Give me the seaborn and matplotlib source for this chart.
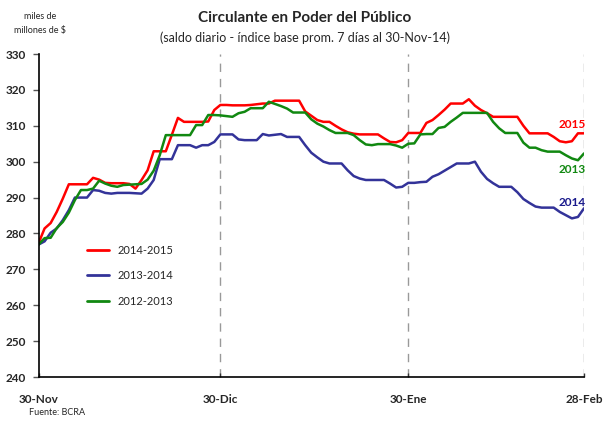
import numpy as np
import pandas as pd
import matplotlib
matplotlib.use("Agg")
import matplotlib.pyplot as plt
import seaborn as sns

# ---- data (daily, day 0 = 30-Nov ... day 90 = 28-Feb) ----
days = list(range(91))

s_2014_2015 = [277.3, 281.4, 282.9, 286.0, 289.7, 293.7, 293.7, 293.7, 293.7, 295.5,
               295.0, 294.1, 294.0, 294.0, 294.0, 293.8, 292.5, 294.9, 297.6, 302.9,
               302.9, 302.9, 307.5, 312.2, 311.1, 311.1, 311.1, 311.1, 311.2, 314.4,
               315.8, 315.8, 315.7, 315.7, 315.7, 315.8, 316.0, 316.2, 316.2, 317.0,
               317.0, 317.0, 317.0, 317.0, 314.0, 312.8, 311.6, 311.1, 311.1, 310.0,
               309.0, 308.2, 307.8, 307.6, 307.6, 307.6, 307.6, 306.5, 305.5, 305.4,
               306.0, 308.0, 308.0, 308.0, 310.8, 311.6, 313.0, 314.5, 316.2, 316.2,
               316.2, 317.4, 315.6, 314.4, 313.5, 312.5, 312.5, 312.5, 312.5, 312.5,
               310.0, 307.9, 307.9, 307.9, 307.9, 306.9, 305.7, 305.4, 305.7, 307.9,
               307.9]

s_2013_2014 = [276.9, 277.8, 280.2, 281.4, 283.7, 286.5, 290.0, 290.0, 290.0, 292.1,
               291.9, 291.3, 291.1, 291.3, 291.3, 291.3, 291.2, 291.1, 292.5, 294.9,
               300.7, 300.7, 300.7, 304.6, 304.6, 304.6, 303.9, 304.6, 304.6, 305.5,
               307.6, 307.6, 307.6, 306.2, 306.0, 306.0, 306.0, 307.7, 307.3, 307.5,
               307.7, 306.9, 306.9, 306.9, 304.6, 302.5, 301.2, 300.0, 299.5, 299.5,
               299.5, 297.6, 296.0, 295.3, 294.9, 294.9, 294.9, 294.9, 293.9, 292.8,
               293.0, 294.1, 294.1, 294.3, 294.4, 295.8, 296.5, 297.5, 298.5, 299.5,
               299.5, 299.5, 300.0, 297.2, 295.2, 294.0, 293.0, 293.0, 293.0, 291.5,
               289.6, 288.5, 287.5, 287.2, 287.2, 287.2, 286.0, 285.1, 284.2, 284.6,
               287.0]

s_2012_2013 = [276.9, 278.7, 278.8, 281.5, 283.2, 285.8, 289.3, 292.1, 292.1, 292.5,
               294.7, 293.9, 293.3, 293.0, 293.5, 293.6, 293.7, 293.8, 295.0, 297.5,
               301.8, 307.4, 307.4, 307.4, 307.4, 307.4, 310.2, 310.2, 313.0, 313.0,
               312.9, 312.7, 312.5, 313.5, 313.9, 314.9, 314.9, 314.9, 316.7, 316.1,
               315.5, 314.8, 313.7, 313.7, 313.7, 311.8, 310.6, 309.8, 308.8, 308.0,
               308.0, 308.0, 307.4, 306.0, 304.8, 304.6, 304.9, 304.9, 304.9, 304.5,
               303.9, 305.0, 305.1, 307.6, 307.7, 307.7, 309.4, 309.7, 311.1, 312.3,
               313.6, 313.6, 313.6, 313.6, 313.6, 311.1, 309.3, 308.0, 308.0, 308.0,
               305.3, 303.9, 303.9, 303.2, 302.8, 302.8, 302.8, 301.8, 300.9, 300.4,
               302.3]

series_names = ["2014-2015", "2013-2014", "2012-2013"]
end_labels = ["2015", "2014", "2013"]
xtick_pos = [0, 30, 61, 90]
xtick_labels = ["30-Nov", "30-Dic", "30-Ene", "28-Feb"]
yticks = list(range(240, 331, 10))

df = pd.DataFrame({
    "dia": days * 3,
    "valor": s_2014_2015 + s_2013_2014 + s_2012_2013,
    "serie": [series_names[0]] * 91 + [series_names[1]] * 91 + [series_names[2]] * 91,
})

colors = {"2014-2015": "#ff0000", "2013-2014": "#333399", "2012-2013": "#118811"}
label_colors = {"2015": "#ff0000", "2014": "#1a1a8c", "2013": "#118811"}

sns.set_theme(style="white")
plt.rcParams["font.family"] = ["Lato", "DejaVu Sans"]

fig = plt.figure(figsize=(6.03, 4.22), dpi=100)
ax = fig.add_axes([0.0639, 0.1066, 0.9046, 0.7654])

for xv in xtick_pos[1:]:
    ax.axvline(xv, color="#999999", lw=1.0, ls=(0, (6, 5)), zorder=0)

sns.lineplot(data=df, x="dia", y="valor", hue="serie", hue_order=series_names,
             palette=colors, linewidth=1.8, ax=ax, legend=True)

ax.set_xlim(0, 90)
ax.set_ylim(240, 330)
ax.set_yticks(yticks)
ax.set_yticklabels([str(v) for v in yticks], fontsize=8.5, fontweight="bold")
ax.set_xticks(xtick_pos)
ax.set_xticklabels(xtick_labels, fontsize=8.5, fontweight="bold")
ax.tick_params(axis="y", direction="out", length=4, width=1, color="#555555", pad=5, left=True)
ax.tick_params(axis="x", direction="in", length=3, width=1, color="#333333", pad=12, bottom=True)
ax.set_xlabel("")
ax.set_ylabel("")
for sp in ["top", "right"]:
    ax.spines[sp].set_visible(False)
ax.spines["left"].set_color("black")
ax.spines["bottom"].set_color("black")
ax.spines["left"].set_linewidth(1.2)
ax.spines["bottom"].set_linewidth(1.2)
ax.grid(False)

leg = ax.legend(loc="upper left", bbox_to_anchor=(0.07, 0.44), frameon=False,
                fontsize=8, handlelength=2.0, labelspacing=1.3, handletextpad=0.8)
for line in leg.get_lines():
    line.set_linewidth(2)

# end labels
ax.text(90.3, 310.3, end_labels[0], color=label_colors["2015"], fontsize=8.5,
        fontweight="bold", ha="right", va="center", clip_on=False)
ax.text(90.3, 288.5, end_labels[1], color=label_colors["2014"], fontsize=8.5,
        fontweight="bold", ha="right", va="center", clip_on=False)
ax.text(90.3, 297.9, end_labels[2], color=label_colors["2013"], fontsize=8.5,
        fontweight="bold", ha="right", va="center", clip_on=False)

fig.text(0.505, 0.958, "Circulante en Poder del Público", ha="center", va="center",
         fontsize=11, fontweight="bold")
fig.text(0.505, 0.910, "(saldo diario - índice base prom. 7 días al 30-Nov-14)",
         ha="center", va="center", fontsize=9)
fig.text(0.066, 0.962, "miles de", ha="center", va="center", fontsize=6.5)
fig.text(0.066, 0.928, "millones de $", ha="center", va="center", fontsize=6.5)
fig.text(0.048, 0.022, "Fuente: BCRA", ha="left", va="center", fontsize=6.5)

fig.savefig("out.png", dpi=100)
